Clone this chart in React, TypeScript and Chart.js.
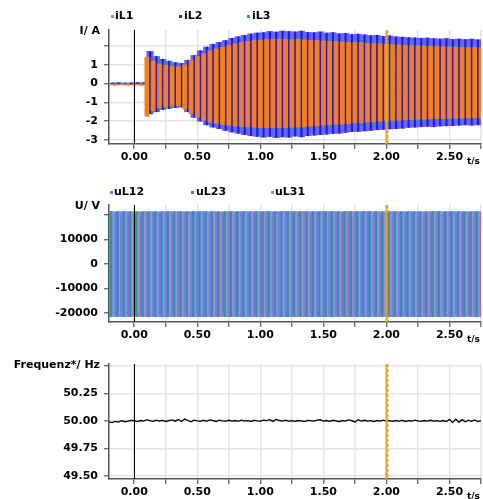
import React, { useEffect, useRef } from 'react';
import { Chart, registerables } from 'chart.js';

Chart.register(...registerables);

// ---------------- data ----------------
const T0 = -0.2; // first reading time, s
const DT_I = 0.05; // spacing of current readings, s
const DT_U = 0.05; // spacing of voltage readings, s
const DT_F = 0.025; // spacing of frequency readings, s
const CURSOR_T = 2.0; // cursor position, s

const xTicks = [0, 0.25, 0.5, 0.75, 1, 1.25, 1.5, 1.75, 2, 2.25, 2.5, 2.75];
const xTickLabels = ['0.00', '', '0.50', '', '1.00', '', '1.50', '', '2.00', '', '2.50', ''];
const iTicks = [-3, -2, -1, 0, 1, 2];
const iTickLabels = ['-3', '-2', '-1', '0', '1', ''];
const uTicks = [-20000, -10000, 0, 10000, 20000];
const uTickLabels = ['-20000', '-10000', '0', '10000', ''];
const fTicks = [49.5, 49.75, 50, 50.25, 50.5];
const fTickLabels = ['49.50', '49.75', '50.00', '50.25', ''];

// phase currents, A (peak and trough of each visible stroke)
const iL1Max = [-0.02, -0.03, -0.01, -0.02, -0.03, -0.02,
  1.40, 1.20, 1.05, 0.98, 0.92, 0.90, 1.00, 1.25, 1.45, 1.60,
  1.75, 1.85, 1.95, 2.05, 2.12, 2.20, 2.25, 2.30, 2.32, 2.35,
  2.36, 2.38, 2.36, 2.35, 2.36, 2.33, 2.30, 2.30, 2.28, 2.26,
  2.25, 2.22, 2.20, 2.20, 2.18, 2.15, 2.14, 2.12, 2.10, 2.08,
  2.06, 2.05, 2.03, 2.02, 2.00, 2.00, 1.98, 1.97, 1.96, 1.95,
  1.94, 1.93, 1.93, 1.92];
const iL1Min = [-0.08, -0.10, -0.07, -0.09, -0.08, -0.10,
  -1.74, -1.45, -1.30, -1.25, -1.20, -1.18, -1.35, -1.60, -1.78, -1.95,
  -2.05, -2.12, -2.18, -2.22, -2.26, -2.28, -2.30, -2.33, -2.35, -2.36,
  -2.35, -2.36, -2.34, -2.33, -2.32, -2.30, -2.27, -2.25, -2.22, -2.20,
  -2.17, -2.15, -2.12, -2.10, -2.08, -2.05, -2.03, -2.00, -1.98, -1.96,
  -1.95, -1.93, -1.92, -1.90, -1.90, -1.88, -1.87, -1.86, -1.85, -1.85,
  -1.84, -1.83, -1.83, -1.82];
const iL2Max = [0.03, 0.05, 0.03, 0.04, 0.05, 0.05,
  1.72, 1.45, 1.30, 1.20, 1.12, 1.08, 1.25, 1.50, 1.75, 1.95,
  2.10, 2.20, 2.30, 2.42, 2.50, 2.58, 2.65, 2.70, 2.72, 2.78,
  2.75, 2.80, 2.78, 2.76, 2.80, 2.74, 2.72, 2.76, 2.70, 2.72,
  2.66, 2.68, 2.62, 2.64, 2.60, 2.56, 2.58, 2.52, 2.55, 2.50,
  2.48, 2.46, 2.44, 2.42, 2.43, 2.40, 2.38, 2.40, 2.36, 2.38,
  2.35, 2.37, 2.34, 2.36];
const iL2Min = [-0.02, -0.03, -0.02, -0.03, -0.02, -0.03,
  -1.60, -1.50, -1.38, -1.32, -1.28, -1.25, -1.50, -1.80, -2.00, -2.20,
  -2.32, -2.40, -2.50, -2.58, -2.65, -2.72, -2.78, -2.82, -2.85, -2.82,
  -2.88, -2.84, -2.86, -2.80, -2.84, -2.78, -2.75, -2.72, -2.70, -2.66,
  -2.65, -2.60, -2.56, -2.55, -2.52, -2.50, -2.46, -2.44, -2.42, -2.40,
  -2.38, -2.34, -2.32, -2.30, -2.28, -2.30, -2.26, -2.25, -2.24, -2.22,
  -2.20, -2.22, -2.20, -2.18];
const iL3Max = [0.05, 0.06, 0.04, 0.05, 0.06, 0.05,
  1.55, 1.35, 1.20, 1.10, 1.05, 1.02, 1.12, 1.38, 1.58, 1.75,
  1.90, 2.00, 2.10, 2.18, 2.26, 2.33, 2.38, 2.43, 2.45, 2.48,
  2.48, 2.50, 2.48, 2.47, 2.48, 2.45, 2.42, 2.42, 2.40, 2.38,
  2.36, 2.34, 2.32, 2.31, 2.29, 2.27, 2.25, 2.23, 2.22, 2.20,
  2.18, 2.16, 2.15, 2.13, 2.12, 2.11, 2.10, 2.09, 2.08, 2.07,
  2.06, 2.05, 2.05, 2.04];
const iL3Min = [0.00, 0.01, -0.01, 0.00, 0.01, 0.00,
  -1.65, -1.48, -1.35, -1.30, -1.25, -1.22, -1.42, -1.70, -1.88, -2.05,
  -2.15, -2.22, -2.28, -2.33, -2.38, -2.40, -2.43, -2.46, -2.48, -2.48,
  -2.47, -2.48, -2.46, -2.45, -2.44, -2.42, -2.39, -2.37, -2.34, -2.32,
  -2.29, -2.27, -2.24, -2.22, -2.20, -2.17, -2.15, -2.12, -2.10, -2.08,
  -2.07, -2.05, -2.04, -2.02, -2.01, -2.00, -1.99, -1.98, -1.97, -1.96,
  -1.95, -1.95, -1.94, -1.93];

// line voltages, V
const uL12Max = [21400, 21350, 21420, 21380, 21400, 21360, 21410, 21390, 21370, 21420,
  21400, 21380, 21350, 21410, 21390, 21400, 21370, 21420, 21380, 21400,
  21360, 21410, 21390, 21400, 21380, 21420, 21370, 21400, 21390, 21410,
  21380, 21400, 21420, 21360, 21390, 21410, 21400, 21370, 21420, 21380,
  21400, 21390, 21360, 21410, 21380, 21420, 21400, 21370, 21390, 21410,
  21380, 21400, 21420, 21360, 21400, 21390, 21410, 21370, 21400, 21380];
const uL12Min = [-21500, -21450, -21520, -21480, -21500, -21460, -21510, -21490, -21470, -21520,
  -21500, -21480, -21450, -21510, -21490, -21500, -21470, -21520, -21480, -21500,
  -21460, -21510, -21490, -21500, -21480, -21520, -21470, -21500, -21490, -21510,
  -21480, -21500, -21520, -21460, -21490, -21510, -21500, -21470, -21520, -21480,
  -21500, -21490, -21460, -21510, -21480, -21520, -21500, -21470, -21490, -21510,
  -21480, -21500, -21520, -21460, -21500, -21490, -21510, -21470, -21500, -21480];
const uL23Max = [21380, 21410, 21360, 21400, 21420, 21390, 21350, 21400, 21410, 21380,
  21370, 21420, 21400, 21390, 21360, 21410, 21400, 21380, 21420, 21390,
  21400, 21370, 21410, 21380, 21400, 21360, 21410, 21390, 21420, 21400,
  21390, 21370, 21400, 21410, 21380, 21420, 21360, 21400, 21390, 21410,
  21370, 21400, 21420, 21380, 21390, 21400, 21410, 21360, 21400, 21380,
  21420, 21390, 21370, 21400, 21410, 21380, 21400, 21390, 21360, 21410];
const uL23Min = [-21480, -21510, -21460, -21500, -21520, -21490, -21450, -21500, -21510, -21480,
  -21470, -21520, -21500, -21490, -21460, -21510, -21500, -21480, -21520, -21490,
  -21500, -21470, -21510, -21480, -21500, -21460, -21510, -21490, -21520, -21500,
  -21490, -21470, -21500, -21510, -21480, -21520, -21460, -21500, -21490, -21510,
  -21470, -21500, -21520, -21480, -21490, -21500, -21510, -21460, -21500, -21480,
  -21520, -21490, -21470, -21500, -21510, -21480, -21500, -21490, -21460, -21510];
const uL31Max = [21410, 21390, 21400, 21370, 21380, 21420, 21400, 21360, 21390, 21410,
  21380, 21400, 21420, 21370, 21400, 21390, 21410, 21360, 21400, 21380,
  21420, 21390, 21370, 21410, 21400, 21380, 21390, 21420, 21360, 21400,
  21400, 21380, 21410, 21390, 21420, 21370, 21400, 21390, 21360, 21410,
  21390, 21420, 21380, 21400, 21370, 21410, 21390, 21400, 21420, 21380,
  21360, 21400, 21390, 21410, 21380, 21400, 21420, 21370, 21390, 21400];
const uL31Min = [-21510, -21490, -21500, -21470, -21480, -21520, -21500, -21460, -21490, -21510,
  -21480, -21500, -21520, -21470, -21500, -21490, -21510, -21460, -21500, -21480,
  -21520, -21490, -21470, -21510, -21500, -21480, -21490, -21520, -21460, -21500,
  -21500, -21480, -21510, -21490, -21520, -21470, -21500, -21490, -21460, -21510,
  -21490, -21520, -21480, -21500, -21470, -21510, -21490, -21500, -21520, -21480,
  -21460, -21500, -21490, -21510, -21480, -21500, -21520, -21470, -21490, -21500];

// frequency, Hz
const freqHz = [
  49.990, 49.984, 49.995, 49.989, 50.002, 49.992, 49.997, 50.005, 50.000, 49.994,
  50.003, 49.997, 50.010, 50.002, 49.995, 50.006, 49.998, 50.005, 49.994, 50.002,
  50.008, 49.997, 50.013, 49.994, 50.016, 50.003, 49.992, 50.006, 50.000, 49.995,
  50.005, 49.998, 50.008, 50.002, 49.994, 50.006, 50.000, 49.997, 50.005, 49.998,
  50.003, 49.995, 50.006, 49.998, 50.002, 49.994, 50.005, 50.000, 49.997, 50.006,
  50.002, 50.010, 49.995, 50.014, 50.003, 49.997, 50.005, 49.998, 50.002, 49.995,
  50.003, 50.000, 49.994, 50.005, 50.002, 49.997, 50.006, 50.010, 49.998, 50.003,
  49.995, 50.005, 50.000, 49.994, 50.003, 49.997, 50.008, 50.002, 49.990, 50.010,
  49.997, 50.005, 49.998, 50.002, 49.994, 50.003, 49.998, 50.006, 49.997, 50.002,
  49.995, 50.003, 49.998, 50.005, 49.994, 50.002, 49.997, 50.006, 50.000, 49.995,
  50.003, 49.997, 50.005, 49.998, 50.002, 49.995, 50.003, 49.994, 50.013, 49.984,
  50.016, 49.987, 50.011, 49.992, 50.006, 49.995, 50.008, 49.994, 50.003];

// ---------------- styling ----------------
const FONT = '"DejaVu Sans", "Liberation Sans", sans-serif';
const GRID = '#e3e3e3';
const AXIS = '#555555';
const W = 483;

const ORANGE = '#ff8000';
const BLUE = '#1a1aff';
const BLUE_ENV = '#6c64ea';
const TEAL = '#1ea383';
const U12 = '#7878f2';
const U23 = '#12a88a';
const U31 = '#c47ed8';

type LegendItem = { label: string; color: string; dotX: number; textX: number };

function fixedTicks(values: number[]) {
  return (s: any) => {
    s.ticks = values.map((v) => ({ value: v }));
  };
}

function xScale(axisHeight: number) {
  return {
    type: 'linear',
    min: -0.2,
    max: 2.75,
    offset: false,
    grid: { offset: false, color: GRID, lineWidth: 1.5, tickColor: AXIS, tickLength: 5, tickWidth: 1.2 },
    border: { color: AXIS, width: 1.5 },
    afterBuildTicks: fixedTicks(xTicks),
    ticks: {
      autoSkip: false,
      maxRotation: 0,
      minRotation: 0,
      padding: 2,
      color: '#000',
      font: { family: FONT, size: 11, weight: 'bold' },
      callback: (_v: number, i: number) => xTickLabels[i],
    },
    afterFit: (s: any) => {
      s.height = axisHeight;
    },
  };
}

function yScale(min: number, max: number, values: number[], labels: string[]) {
  return {
    type: 'linear',
    min,
    max,
    grid: { color: GRID, lineWidth: 1.5, tickColor: AXIS, tickLength: 5, tickWidth: 1.2 },
    border: { color: AXIS, width: 1.5 },
    afterBuildTicks: fixedTicks(values),
    ticks: {
      padding: 6,
      color: '#000',
      font: { family: FONT, size: 11, weight: 'bold' },
      callback: (_v: number, i: number) => labels[i],
    },
    afterFit: (s: any) => {
      s.width = 109;
    },
  };
}

function overlay(title: string, legend: LegendItem[], legendY: number) {
  return {
    id: 'overlay',
    afterDatasetsDraw(chart: any) {
      const { ctx, chartArea: a, scales } = chart;
      const x = scales.x;
      ctx.save();
      const x0 = Math.round(x.getPixelForValue(0)) + 0.5;
      ctx.strokeStyle = '#000';
      ctx.lineWidth = 1;
      ctx.beginPath();
      ctx.moveTo(x0, a.top);
      ctx.lineTo(x0, a.bottom);
      ctx.stroke();
      const xc = x.getPixelForValue(CURSOR_T);
      ctx.strokeStyle = '#f7a600';
      ctx.lineWidth = 2;
      ctx.beginPath();
      ctx.moveTo(xc, a.top);
      ctx.lineTo(xc, a.bottom);
      ctx.stroke();
      ctx.strokeStyle = '#3bb6ee';
      ctx.lineWidth = 1;
      ctx.setLineDash([3, 2]);
      ctx.beginPath();
      ctx.moveTo(xc + 1.5, a.top);
      ctx.lineTo(xc + 1.5, a.bottom);
      ctx.stroke();
      ctx.restore();
    },
    afterDraw(chart: any) {
      const { ctx, chartArea: a } = chart;
      ctx.save();
      ctx.font = `bold 11px ${FONT}`;
      ctx.fillStyle = '#000';
      ctx.textBaseline = 'middle';
      ctx.textAlign = 'right';
      ctx.fillText(title, 100, a.top + 1);
      ctx.textAlign = 'left';
      legend.forEach((it) => {
        ctx.fillStyle = it.color;
        ctx.fillRect(it.dotX - 1, legendY - 1, 3, 3);
        ctx.fillStyle = '#000';
        ctx.fillText(it.label, it.textX, legendY);
      });
      ctx.font = `bold 9px ${FONT}`;
      ctx.fillText('t/s', 467, a.bottom + 18);
      ctx.restore();
    },
  };
}

// one vertical stroke (trough..peak) per reading
function strokes(label: string, maxArr: number[], minArr: number[], dt: number, phase: number,
  color: string, thickness: number, order: number) {
  return {
    type: 'bar',
    label,
    data: maxArr.map((v, i) => ({ x: T0 + i * dt + phase, y: [minArr[i], v] })),
    backgroundColor: color,
    borderWidth: 0,
    barThickness: thickness,
    grouped: false,
    order,
  };
}

function baseOptions(padTop: number, xH: number, y: any) {
  return {
    responsive: false,
    maintainAspectRatio: false,
    devicePixelRatio: 1,
    animation: false,
    events: [],
    layout: { padding: { top: padTop, left: 0, right: 0, bottom: 0 } },
    plugins: { legend: { display: false }, tooltip: { enabled: false }, title: { display: false } },
    scales: { x: xScale(xH), y },
  };
}

function currentConfig(): any {
  return {
    type: 'bar',
    data: {
      datasets: [
        strokes('iL1', iL1Max, iL1Min, DT_I, 0, ORANGE, 4, 0),
        strokes('iL2', iL2Max, iL2Min, DT_I, 0.026, BLUE, 1.5, 1),
        strokes('iL3', iL3Max, iL3Min, DT_I, 0.038, TEAL, 1.1, 2),
        strokes('iL2 range', iL2Max, iL2Min, DT_I, 0.025, BLUE_ENV, 6.6, 3),
      ],
    },
    options: baseOptions(30, 26, yScale(-3.22, 2.86, iTicks, iTickLabels)),
    plugins: [
      overlay('I/ A', [
        { label: 'iL1', color: ORANGE, dotX: 112, textX: 115 },
        { label: 'iL2', color: BLUE, dotX: 180, textX: 184 },
        { label: 'iL3', color: TEAL, dotX: 248, textX: 252 },
      ], 16),
    ],
  };
}

function voltageConfig(): any {
  return {
    type: 'bar',
    data: {
      datasets: [
        strokes('uL12', uL12Max, uL12Min, DT_U, 0, U12, 6.6, 2),
        strokes('uL23', uL23Max, uL23Min, DT_U, 0.017, U23, 1.4, 0),
        strokes('uL31', uL31Max, uL31Min, DT_U, 0.034, U31, 0.9, 1),
      ],
    },
    options: baseOptions(35, 28, yScale(-23720, 24130, uTicks, uTickLabels)),
    plugins: [
      overlay('U/ V', [
        { label: 'uL12', color: U12, dotX: 111, textX: 114 },
        { label: 'uL23', color: U23, dotX: 192, textX: 196 },
        { label: 'uL31', color: U31, dotX: 272, textX: 275 },
      ], 22),
    ],
  };
}

function freqConfig(): any {
  return {
    type: 'line',
    data: {
      datasets: [{
        label: 'Frequenz*',
        data: freqHz.map((v, i) => ({ x: T0 + i * DT_F, y: v })),
        borderColor: '#000',
        borderWidth: 1.3,
        pointRadius: 0,
        tension: 0,
        fill: false,
      }],
    },
    options: baseOptions(14, 20, yScale(49.472, 50.516, fTicks, fTickLabels)),
    plugins: [overlay('Frequenz*/ Hz', [], 0)],
  };
}

function Panel({ top, height, make }: { top: number; height: number; make: () => any }) {
  const ref = useRef<HTMLCanvasElement>(null);
  useEffect(() => {
    const chart = new Chart(ref.current as HTMLCanvasElement, make());
    return () => chart.destroy();
  }, []);
  return (
    <canvas
      ref={ref}
      width={W}
      height={height}
      style={{ position: 'absolute', left: 0, top, width: W, height, display: 'block' }}
    />
  );
}

export default function App() {
  return (
    <div style={{ position: 'absolute', left: 0, top: 0, width: W, height: 499, background: '#fff', overflow: 'hidden' }}>
      <Panel top={0} height={170} make={currentConfig} />
      <Panel top={170} height={180} make={voltageConfig} />
      <Panel top={350} height={149} make={freqConfig} />
    </div>
  );
}
